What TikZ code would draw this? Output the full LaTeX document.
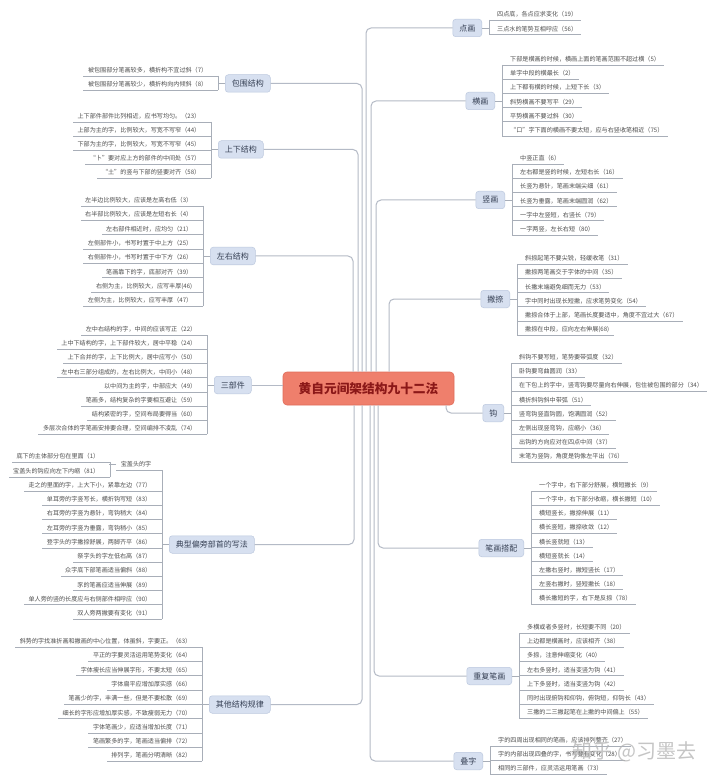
\documentclass[tikz,border=0pt]{standalone}
\usepackage{fontspec}
\setmainfont{Noto Sans CJK SC}
\usetikzlibrary{positioning}
\definecolor{rootFill}{RGB}{239,127,108}
\definecolor{rootEdge}{RGB}{224,108,90}
\definecolor{rootText}{RGB}{139,24,24}
\definecolor{branchFill}{RGB}{215,224,240}
\definecolor{branchEdge}{RGB}{188,200,222}
\definecolor{branchText}{RGB}{55,65,85}
\definecolor{leafText}{RGB}{78,78,78}
\definecolor{leafLine}{RGB}{168,174,184}
\definecolor{trunkGray}{RGB}{180,186,198}
\tikzset{
    box_root/.style={
        rectangle, rounded corners=4pt, draw=rootEdge, fill=rootFill, line width=0.6pt,
        minimum width=171pt, minimum height=33pt, inner sep=0pt,
        text=rootText, font=\fontsize{12.7}{15}\selectfont\bfseries
    },
    box_branch/.style={
        rectangle, rounded corners=3pt, draw=branchEdge, fill=branchFill, line width=0.5pt,
        minimum height=17.5pt, inner xsep=6.5pt, inner ysep=0pt,
        text=branchText, font=\fontsize{8}{9.6}\selectfont
    },
    leaf_line/.style={draw=leafLine, line width=0.6pt},
    trunk_line/.style={draw=trunkGray, line width=1pt, rounded corners=5pt},
    leaf_left/.style={
        anchor=south east, inner xsep=4.5pt, inner ysep=2.6pt,
        text=leafText, font=\fontsize{6.1}{7.3}\selectfont,
        append after command={([xshift=6pt]\tikzlastnode.south east) edge[leaf_line] (\tikzlastnode.south west)}
    },
    leaf_right/.style={
        anchor=south west, inner xsep=4pt, inner ysep=2.6pt,
        text=leafText, font=\fontsize{6.1}{7.3}\selectfont,
        append after command={([xshift=-4pt]\tikzlastnode.south west) edge[leaf_line] (\tikzlastnode.south east)}
    }
}

\begin{document}
\begin{tikzpicture}[x=1pt, y=-1pt]
\fill[white] (0,0) rectangle (720,783);
\useasboundingbox (0,0) rectangle (720,783);

\node[box_root] (root) at (368.5,388.5) {黄自元间架结构九十二法};

\node[box_branch, anchor=west] (bw) at (225,83.5) {包围结构};
\node[leaf_left] (bw1) at (212,76) {被包围部分笔画较多，横折构不宜过斜（7）};
\node[leaf_left] (bw2) at (212,90) {被包围部分笔画较少，横折构向内倾斜（8）};

\node[box_branch, anchor=west] (sx) at (218,149.5) {上下结构};
\node[leaf_left] (sx1) at (205,122) {上下部件部件比列相近，应书写均匀。（23）};
\node[leaf_left] (sx2) at (205,136) {上部为主的字，比例较大，写宽不写窄（44）};
\node[leaf_left] (sx3) at (205,150) {下部为主的字，比例较大，写宽不写窄（45）};
\node[leaf_left] (sx4) at (205,164) {“卜”要对应上方的部件的中间处（57）};
\node[leaf_left] (sx5) at (205,178) {“土”的竖与下部的竖要对齐（58）};

\node[box_branch, anchor=west] (zy) at (210,256) {左右结构};
\node[leaf_left] (zy1) at (197,206) {左半边比例较大，应该是左高右低（3）};
\node[leaf_left] (zy2) at (197,220.3) {右半部比例较大，应该是左短右长（4）};
\node[leaf_left] (zy3) at (197,234.7) {左右部件相近时，应均匀（21）};
\node[leaf_left] (zy4) at (197,249) {左侧部件小，书写时置于中上方（25）};
\node[leaf_left] (zy5) at (197,263.3) {右侧部件小，书写时置于中下方（26）};
\node[leaf_left] (zy6) at (197,277.7) {笔画靠下的字，底部对齐（39）};
\node[leaf_left] (zy7) at (197,292) {右侧为主，比例较大，应写丰厚(46)};
\node[leaf_left] (zy8) at (197,306.3) {左侧为主，比例较大，应写丰厚（47）};

\node[box_branch, anchor=west] (sb) at (214,385) {三部件};
\node[leaf_left] (sb1) at (201,335) {左中右结构的字，中间的应该写正（22）};
\node[leaf_left] (sb2) at (201,349.2) {上中下结构的字，上下部件较大，居中平稳（24）};
\node[leaf_left] (sb3) at (201,363.4) {上下合并的字，上下比例大，居中应写小（50）};
\node[leaf_left] (sb4) at (201,377.6) {左中右三部分组成的，左右比例大，中间小（48）};
\node[leaf_left] (sb5) at (201,391.8) {以中间为主的字，中部应大（49）};
\node[leaf_left] (sb6) at (201,406) {笔画多，结构复杂的字要相互避让（59）};
\node[leaf_left] (sb7) at (201,420.2) {结构紧密的字，空间布局要得当（60）};
\node[leaf_left] (sb8) at (201,434.4) {多层次合体的字笔画安排要合理，空间编排不凌乱（74）};

\node[box_branch, anchor=west] (dx) at (169,544.5) {典型偏旁部首的写法};
\node[leaf_left] (bg) at (156,470) {宝盖头的字};
\node[leaf_left] (bg1) at (104,462) {底下的主体部分包在里面（1）};
\node[leaf_left] (bg2) at (104,477) {宝盖头的钩应向左下内缩（81）};
\node[leaf_left] (dx1) at (156,491) {走之的里面的字，上大下小，紧靠左边（77）};
\node[leaf_left] (dx2) at (156,505.2) {单耳旁的字竖写长，横折钩写短（83）};
\node[leaf_left] (dx3) at (156,519.4) {右耳旁的字竖为悬针，弯钩稍大（84）};
\node[leaf_left] (dx4) at (156,533.6) {左耳旁的字竖为垂露，弯钩稍小（85）};
\node[leaf_left] (dx5) at (156,547.8) {登字头的字撇捺舒展，两脚齐平（86）};
\node[leaf_left] (dx6) at (156,562) {祭字头的字左低右高（87）};
\node[leaf_left] (dx7) at (156,576.2) {众字底下部笔画适当偏斜（88）};
\node[leaf_left] (dx8) at (156,590.4) {豕的笔画应适当伸展（89）};
\node[leaf_left] (dx9) at (156,604.6) {单人旁的竖的长度应与右侧部件相呼应（90）};
\node[leaf_left] (dx10) at (156,618.8) {双人旁两撇要有变化（91）};

\node[box_branch, anchor=west] (qt) at (209,704.5) {其他结构规律};
\node[leaf_left] (qt1) at (196,647) {斜势的字找准折画和撇画的中心位置，体虽斜，字要正。（63）};
\node[leaf_left] (qt2) at (196,661.3) {平正的字要灵活运用笔势变化（64）};
\node[leaf_left] (qt3) at (196,675.6) {字体瘦长应当伸展字形，不要太短（65）};
\node[leaf_left] (qt4) at (196,689.9) {字体扁平应增加厚实感（66）};
\node[leaf_left] (qt5) at (196,704.2) {笔画少的字，丰满一些，但是不要松散（69）};
\node[leaf_left] (qt6) at (196,718.5) {细长的字形应增加厚实感，不致瘦弱无力（70）};
\node[leaf_left] (qt7) at (196,732.8) {字体笔画少，应适当增加长度（71）};
\node[leaf_left] (qt8) at (196,747.1) {笔画繁多的字，笔画适当偏排（72）};
\node[leaf_left] (qt9) at (196,761.4) {排列字，笔画分明清晰（82）};

\node[box_branch, anchor=east] (dh) at (482,28) {点画};
\node[leaf_right] (dh1) at (493,20) {四点底，各点应求变化（19）};
\node[leaf_right] (dh2) at (493,34.5) {三点水的笔势互相呼应（56）};

\node[box_branch, anchor=east] (hh) at (495,101) {横画};
\node[leaf_right] (hh1) at (506,65) {下部是横画的时候，横画上面的笔画范围不超过横（5）};
\node[leaf_right] (hh2) at (506,79.2) {单字中段的横最长（2）};
\node[leaf_right] (hh3) at (506,93.4) {上下都有横的时候，上短下长（3）};
\node[leaf_right] (hh4) at (506,107.6) {斜势横画不要写平（29）};
\node[leaf_right] (hh5) at (506,121.8) {平势横画不要过斜（30）};
\node[leaf_right] (hh6) at (506,136) {“口”字下面的横画不要太短，应与右竖收笔相近（75）};

\node[box_branch, anchor=east] (sh) at (505,200) {竖画};
\node[leaf_right] (sh1) at (516,164) {中竖正直（6）};
\node[leaf_right] (sh2) at (516,178.2) {左右都是竖的时候，左短右长（16）};
\node[leaf_right] (sh3) at (516,192.4) {长竖为悬针，笔画末端尖细（61）};
\node[leaf_right] (sh4) at (516,206.6) {长竖为垂露，笔画末端圆润（62）};
\node[leaf_right] (sh5) at (516,220.8) {一字中左竖短，右竖长（79）};
\node[leaf_right] (sh6) at (516,235) {一字两竖，左长右短（80）};

\node[box_branch, anchor=east] (pn) at (510,299) {撇捺};
\node[leaf_right] (pn1) at (521,264) {斜捺起笔不要尖锐，轻缓收笔（31）};
\node[leaf_right] (pn2) at (521,278.2) {撇捺两笔画交于字体的中间（35）};
\node[leaf_right] (pn3) at (521,292.4) {长撇末端避免细而无力（53）};
\node[leaf_right] (pn4) at (521,306.6) {字中同时出现长短撇，应求笔势变化（54）};
\node[leaf_right] (pn5) at (521,320.8) {撇捺合体于上部，笔画长度要适中，角度不宜过大（67）};
\node[leaf_right] (pn6) at (521,335) {撇捺在中段，应向左右伸展(68)};

\node[box_branch, anchor=east] (gou) at (504,413) {钩};
\node[leaf_right] (gou1) at (515,363) {斜钩不要写短，笔势要带弧度（32）};
\node[leaf_right] (gou2) at (515,377.2) {卧钩要弯曲圆润（33）};
\node[leaf_right] (gou3) at (515,391.4) {在下包上的字中，竖弯钩要尽量向右伸展，包住被包围的部分（34）};
\node[leaf_right] (gou4) at (515,405.6) {横折斜钩斜中带弧（51）};
\node[leaf_right] (gou5) at (515,419.8) {竖弯钩竖直钩圆，饱满圆润（52）};
\node[leaf_right] (gou6) at (515,434) {左侧出现竖弯钩，应缩小（36）};
\node[leaf_right] (gou7) at (515,448.2) {出钩的方向应对在四点中间（37）};
\node[leaf_right] (gou8) at (515,462.4) {末笔为竖钩，角度是钩像左平出（76）};

\node[box_branch, anchor=east] (bh) at (524,548) {笔画搭配};
\node[leaf_right] (bh1) at (535,491) {一个字中，右下部分舒展，横短撇长（9）};
\node[leaf_right] (bh2) at (535,505.1) {一个字中，右下部分收缩，横长撇短（10）};
\node[leaf_right] (bh3) at (535,519.2) {横短竖长，撇捺伸展（11）};
\node[leaf_right] (bh4) at (535,533.3) {横长竖短，撇捺收敛（12）};
\node[leaf_right] (bh5) at (535,547.4) {横长竖就短（13）};
\node[leaf_right] (bh6) at (535,561.5) {横短竖就长（14）};
\node[leaf_right] (bh7) at (535,575.6) {左撇右竖时，撇短竖长（17）};
\node[leaf_right] (bh8) at (535,589.7) {左竖右撇时，竖短撇长（18）};
\node[leaf_right] (bh9) at (535,603.8) {横长撇短的字，右下是反捺（78）};

\node[box_branch, anchor=east] (cf) at (512,676) {重复笔画};
\node[leaf_right] (cf1) at (523,633) {多横或者多竖时，长短要不同（20）};
\node[leaf_right] (cf2) at (523,647.2) {上边都是横画时，应该相齐（38）};
\node[leaf_right] (cf3) at (523,661.4) {多捺，注意伸缩变化（40）};
\node[leaf_right] (cf4) at (523,675.6) {左右多竖时，适当变竖为钩（41）};
\node[leaf_right] (cf5) at (523,689.8) {上下多竖时，适当变竖为钩（42）};
\node[leaf_right] (cf6) at (523,704) {同时出现俯钩和仰钩，俯钩短，仰钩长（43）};
\node[leaf_right] (cf7) at (523,718.2) {三撇的二三撇起笔在上撇的中间偏上（55）};

\node[box_branch, anchor=east] (dz) at (483,761) {叠字};
\node[leaf_right] (dz1) at (494,746) {字的四周出现相同的笔画，应该排列整齐（27）};
\node[leaf_right] (dz2) at (494,760) {字的内部出现四叠的字，书写要有变化（28）};
\node[leaf_right] (dz3) at (494,774) {相同的三部件，应灵活运用笔画（73）};

\draw[trunk_line] ([xshift=-6.5pt]root.north) |- (bw.east);
\draw[trunk_line] ([xshift=-10.5pt]root.north) |- (sx.east);
\draw[trunk_line] ([xshift=-15.5pt]root.north) |- (zy.east);
\draw[trunk_line] (sb.east) -- (sb.east -| root.west);
\draw[trunk_line] ([xshift=-14.5pt]root.south) |- (dx.east);
\draw[trunk_line] ([xshift=-6.5pt]root.south) |- (qt.east);
\draw[trunk_line] ([xshift=-2.5pt]root.north) |- (dh.west);
\draw[trunk_line] ([xshift=2.5pt]root.north) |- (hh.west);
\draw[trunk_line] ([xshift=7.5pt]root.north) |- (sh.west);
\draw[trunk_line] ([xshift=20.5pt]root.north) |- (pn.west);
\draw[trunk_line] ([xshift=77.5pt]root.south) |- (gou.west);
\draw[trunk_line] ([xshift=9.5pt]root.south) |- (bh.west);
\draw[trunk_line] ([xshift=5.5pt]root.south) |- (cf.west);
\draw[trunk_line] ([xshift=1.5pt]root.south) |- (dz.west);

\draw[leaf_line] (bw.west) -- ++(-7pt,0);
\draw[leaf_line] ([xshift=6pt]bw1.south east) -- ([xshift=6pt]bw2.south east);
\draw[leaf_line] (sx.west) -- ++(-7pt,0);
\draw[leaf_line] ([xshift=6pt]sx1.south east) -- ([xshift=6pt]sx5.south east);
\draw[leaf_line] (zy.west) -- ++(-7pt,0);
\draw[leaf_line] ([xshift=6pt]zy1.south east) -- ([xshift=6pt]zy8.south east);
\draw[leaf_line] (sb.west) -- ++(-7pt,0);
\draw[leaf_line] ([xshift=6pt]sb1.south east) -- ([xshift=6pt]sb8.south east);
\draw[leaf_line] (dx.west) -- ++(-7pt,0);
\draw[leaf_line] ([xshift=6pt]bg.south east) -- ([xshift=6pt]dx10.south east);
\draw[leaf_line] (bg.west) -- ++(-7pt,0);
\draw[leaf_line] ([xshift=6pt]bg1.south east) -- ([xshift=6pt]bg2.south east);
\draw[leaf_line] (qt.west) -- ++(-7pt,0);
\draw[leaf_line] ([xshift=6pt]qt1.south east) -- ([xshift=6pt]qt9.south east);

\draw[leaf_line] (dh.east) -- ++(7pt,0);
\draw[leaf_line] ([xshift=-4pt]dh1.south west) -- ([xshift=-4pt]dh2.south west);
\draw[leaf_line] (hh.east) -- ++(7pt,0);
\draw[leaf_line] ([xshift=-4pt]hh1.south west) -- ([xshift=-4pt]hh6.south west);
\draw[leaf_line] (sh.east) -- ++(7pt,0);
\draw[leaf_line] ([xshift=-4pt]sh1.south west) -- ([xshift=-4pt]sh6.south west);
\draw[leaf_line] (pn.east) -- ++(7pt,0);
\draw[leaf_line] ([xshift=-4pt]pn1.south west) -- ([xshift=-4pt]pn6.south west);
\draw[leaf_line] (gou.east) -- ++(7pt,0);
\draw[leaf_line] ([xshift=-4pt]gou1.south west) -- ([xshift=-4pt]gou8.south west);
\draw[leaf_line] (bh.east) -- ++(7pt,0);
\draw[leaf_line] ([xshift=-4pt]bh1.south west) -- ([xshift=-4pt]bh9.south west);
\draw[leaf_line] (cf.east) -- ++(7pt,0);
\draw[leaf_line] ([xshift=-4pt]cf1.south west) -- ([xshift=-4pt]cf7.south west);
\draw[leaf_line] (dz.east) -- ++(7pt,0);
\draw[leaf_line] ([xshift=-4pt]dz1.south west) -- ([xshift=-4pt]dz3.south west);

\node[font=\fontsize{20}{24}\selectfont, text=gray!60, opacity=0.75] (wm) at (634.5,752) {知乎 @习墨去};
\end{tikzpicture}
\end{document}
